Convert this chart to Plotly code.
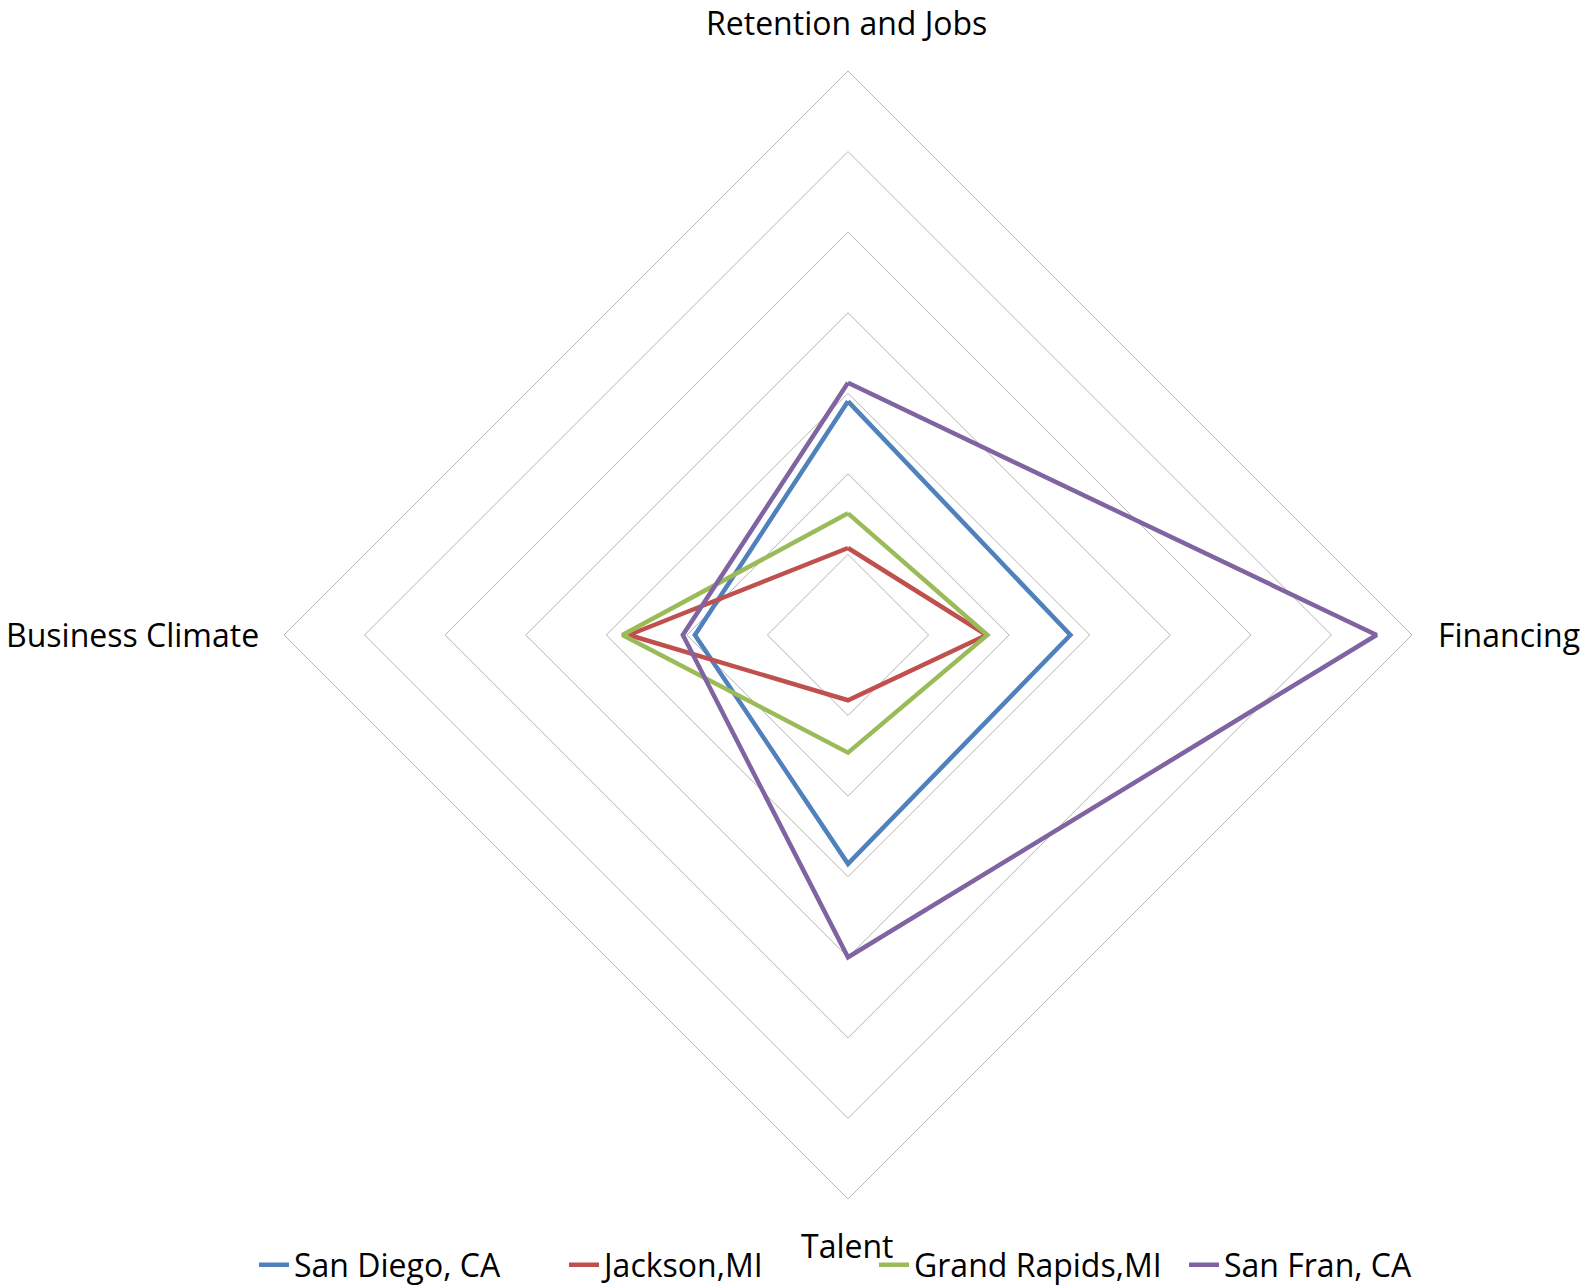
import plotly.graph_objects as go

# Radar axes, clockwise from the top
categories = ["Retention and Jobs", "Financing", "Talent", "Business Climate"]

# Scores per city, in the same order as the categories
san_diego = [2.9, 2.76, 2.84, 1.9]
jackson = [1.08, 1.72, 0.81, 2.72]
grand_rapids = [1.51, 1.73, 1.46, 2.8]
san_fran = [3.13, 6.56, 4.0, 2.05]

series_names = ["San Diego, CA", "Jackson,MI", "Grand Rapids,MI", "San Fran, CA"]
series_values = [san_diego, jackson, grand_rapids, san_fran]
series_colors = ["#4F81BD", "#C0504D", "#9BBB59", "#8064A2"]

FONT = "Open Sans"
FONT_SIZE = 32
W, H = 1589, 1285

fig = go.Figure()
for name, vals, color in zip(series_names, series_values, series_colors):
    fig.add_trace(go.Scatterpolar(
        r=vals + vals[:1],
        theta=categories + categories[:1],
        mode="lines",
        name=name,
        line=dict(color=color, width=4.5),
    ))

# Category labels placed outside the diamond
labels = [
    dict(text=categories[0], x=846 / W, y=1 - 22 / H, xanchor="center", yanchor="middle"),
    dict(text=categories[1], x=1436 / W, y=1 - 634 / H, xanchor="left", yanchor="middle"),
    dict(text=categories[2], x=847 / W, y=1 - 1245 / H, xanchor="center", yanchor="middle"),
    dict(text=categories[3], x=261 / W, y=1 - 634 / H, xanchor="right", yanchor="middle"),
]
annotations = [dict(xref="paper", yref="paper", showarrow=False,
                    font=dict(family=FONT, size=FONT_SIZE, color="#000000"), **a)
               for a in labels]

fig.update_layout(
    width=W, height=H,
    margin=dict(l=0, r=0, t=0, b=0, autoexpand=False),
    paper_bgcolor="white",
    font=dict(family=FONT, size=FONT_SIZE, color="#000000"),
    polar=dict(
        domain=dict(x=[284 / W, 1412 / W], y=[1 - 1199 / H, 1 - 71 / H]),
        gridshape="linear",
        bgcolor="white",
        radialaxis=dict(range=[0, 7], tick0=0, dtick=1, showticklabels=False,
                        ticks="", showline=False, gridcolor="#B4B4B4", gridwidth=1),
        angularaxis=dict(rotation=90, direction="clockwise", showgrid=False,
                         showticklabels=False, ticks="", linecolor="#B4B4B4", linewidth=1,
                         categoryorder="array", categoryarray=categories),
    ),
    showlegend=True,
    legend=dict(orientation="h", x=254 / W, xanchor="left", y=1 - 1265 / H, yanchor="middle",
                font=dict(family=FONT, size=FONT_SIZE, color="#000000"),
                entrywidth=265, entrywidthmode="pixels", bgcolor="rgba(0,0,0,0)"),
    annotations=annotations,
)

fig.write_html("out.html")
